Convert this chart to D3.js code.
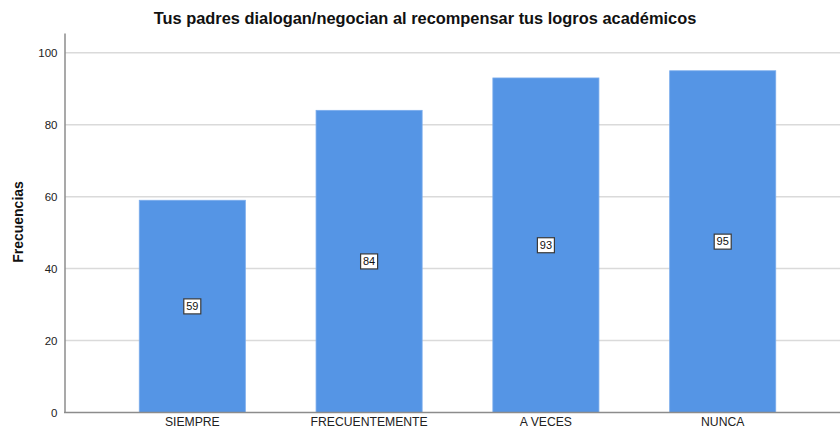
<!DOCTYPE html>
<html>
<head>
<meta charset="utf-8">
<script src="https://cdn.jsdelivr.net/npm/d3@7"></script>
<style>
  body { margin: 0; background: #fff; }
  text { font-family: "Liberation Sans", Arial, sans-serif; }
</style>
</head>
<body>
<div id="grafico"></div>
<script>
const categorias = ['SIEMPRE', 'FRECUENTEMENTE', 'A VECES', 'NUNCA']
const frecuencias = [59, 84, 93, 95]
const ticks = [0, 20, 40, 60, 80, 100]

const width = 840
const height = 428

const svg = d3.select('#grafico')
              .append('svg')
              .attr('width', width)
              .attr('height', height)

const x = d3.scaleBand()
            .domain(categorias)
            .range([65, 850])
            .paddingInner(0.4)
            .paddingOuter(0.42)

const y = d3.scaleLinear()
            .domain([0, 105.5])
            .range([412.5, 33])

// lineas de la grilla
svg.append('g')
   .selectAll('line')
   .data(ticks.filter(t => t > 0))
   .enter()
   .append('line')
   .attr('x1', 65)
   .attr('x2', width)
   .attr('y1', d => y(d))
   .attr('y2', d => y(d))
   .style('stroke', '#dadada')
   .style('stroke-width', 1.5)

// barras
svg.append('g')
   .selectAll('rect')
   .data(frecuencias)
   .enter()
   .append('rect')
   .attr('x', (d, i) => x(categorias[i]))
   .attr('y', d => y(d))
   .attr('width', x.bandwidth())
   .attr('height', d => y(0) - y(d))
   .style('fill', '#5595e5')
   .style('stroke', '#7aacec')
   .style('stroke-width', 0.8)

// ejes
const ejeY = svg.append('g')
                .attr('transform', 'translate(64.5,0)')
                .call(d3.axisLeft(y).tickValues(ticks).tickSize(0).tickPadding(7))
ejeY.select('.domain').style('stroke', '#8c8c8c').style('stroke-width', 1.5)
ejeY.selectAll('text').style('font-size', '11.5px').style('fill', '#222')

const ejeX = svg.append('g')
                .attr('transform', 'translate(0,412.5)')
                .call(d3.axisBottom(x).tickSize(0).tickPadding(5))
ejeX.select('.domain').remove()
ejeX.selectAll('text').style('font-size', '12.2px').style('fill', '#222')

svg.append('line')
   .attr('x1', 64)
   .attr('x2', width)
   .attr('y1', 412.5)
   .attr('y2', 412.5)
   .style('stroke', '#8c8c8c')
   .style('stroke-width', 1.5)

// etiquetas de valores
const etiquetas = svg.append('g')
                     .selectAll('g')
                     .data(frecuencias)
                     .enter()
                     .append('g')
                     .attr('transform', (d, i) => `translate(${x(categorias[i]) + x.bandwidth() / 2}, ${y(d / 2)})`)

etiquetas.append('rect')
         .attr('x', -8.5)
         .attr('y', -7.5)
         .attr('width', 17)
         .attr('height', 15)
         .style('fill', '#fff')
         .style('stroke', '#3a3a3a')
         .style('stroke-width', 1.2)

etiquetas.append('text')
         .attr('text-anchor', 'middle')
         .attr('dy', '0.35em')
         .style('font-size', '11px')
         .style('fill', '#111')
         .text(d => d)

// titulo
svg.append('text')
   .attr('x', 425)
   .attr('y', 24)
   .attr('text-anchor', 'middle')
   .style('font-size', '16.4px')
   .style('font-weight', 'bold')
   .style('fill', '#111')
   .text('Tus padres dialogan/negocian al recompensar tus logros académicos')

svg.append('text')
   .attr('transform', 'translate(23,222) rotate(-90)')
   .attr('text-anchor', 'middle')
   .style('font-size', '14px')
   .style('font-weight', 'bold')
   .style('fill', '#111')
   .text('Frecuencias')
</script>
</body>
</html>
